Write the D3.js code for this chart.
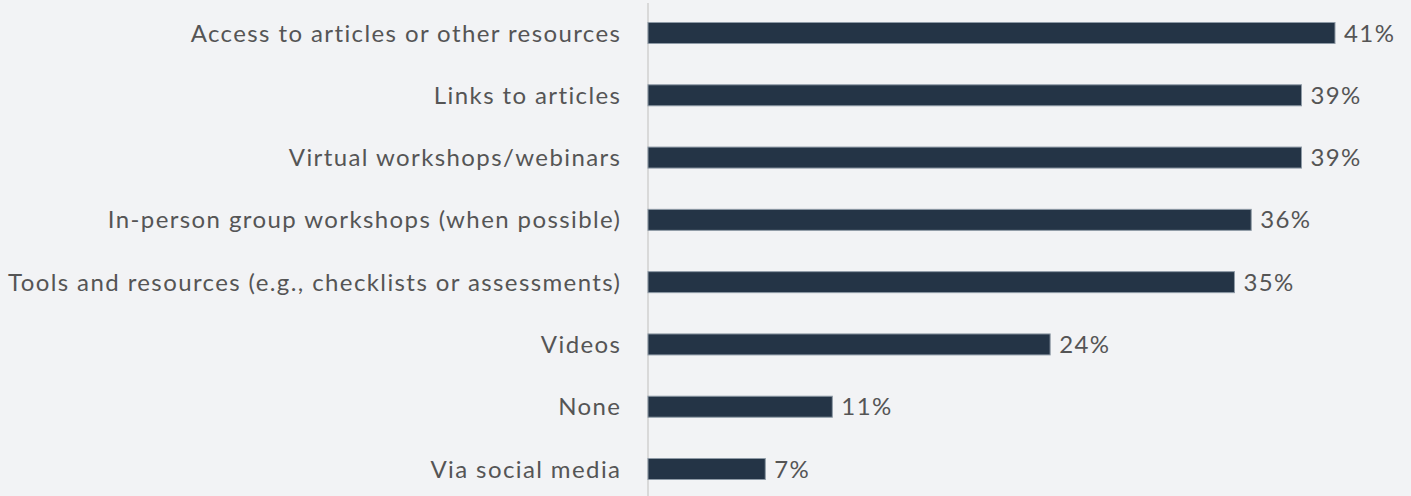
<!DOCTYPE html>
<html>
<head>
<meta charset="utf-8">
<script src="https://cdn.jsdelivr.net/npm/d3@7"></script>
<style>
  html, body { margin: 0; padding: 0; background: #f2f3f5; }
  svg { display: block; }
</style>
</head>
<body>
<script>
// Survey responses: preferred resource formats
const categories = [
  "Access to articles or other resources",
  "Links to articles",
  "Virtual workshops/webinars",
  "In-person group workshops (when possible)",
  "Tools and resources (e.g., checklists or assessments)",
  "Videos",
  "None",
  "Via social media"
];
const values = [41, 39, 39, 36, 35, 24, 11, 7];

const W = 1411, H = 496;
const svg = d3.select("body").append("svg").attr("width", W).attr("height", H);

svg.append("rect").attr("width", W).attr("height", H).attr("fill", "#f2f3f5");

const x = d3.scaleLinear().domain([0, 41]).range([648, 1335]);
const y = d3.scalePoint().domain(categories).range([33, 469]);
const barH = 21;

// baseline
svg.append("line")
  .attr("x1", x(0)).attr("x2", x(0))
  .attr("y1", 3).attr("y2", H)
  .attr("stroke", "#d9d9d9").attr("stroke-width", 2);

const data = categories.map((c, i) => ({ c, v: values[i] }));

svg.selectAll("rect.bar").data(data).join("rect")
  .attr("class", "bar")
  .attr("x", x(0))
  .attr("y", d => y(d.c) - barH / 2)
  .attr("width", d => x(d.v) - x(0))
  .attr("height", barH)
  .attr("fill", "#243446")
  .attr("stroke", "#8e9aa6")
  .attr("stroke-width", 1);

const font = "Lato, 'Open Sans', sans-serif";
const fs = 24, ls = 1.4;

svg.selectAll("text.cat").data(data).join("text")
  .attr("class", "cat")
  .attr("x", 620 + ls)
  .attr("y", d => y(d.c))
  .attr("dy", "0.36em")
  .attr("text-anchor", "end")
  .attr("font-family", font)
  .attr("font-size", fs)
  .attr("letter-spacing", ls)
  .attr("fill", "#555555")
  .text(d => d.c);

svg.selectAll("text.val").data(data).join("text")
  .attr("class", "val")
  .attr("x", d => x(d.v) + 9)
  .attr("y", d => y(d.c))
  .attr("dy", "0.36em")
  .attr("font-family", font)
  .attr("font-size", fs)
  .attr("letter-spacing", ls)
  .attr("fill", "#555555")
  .text(d => d.v + "%");
</script>
</body>
</html>
